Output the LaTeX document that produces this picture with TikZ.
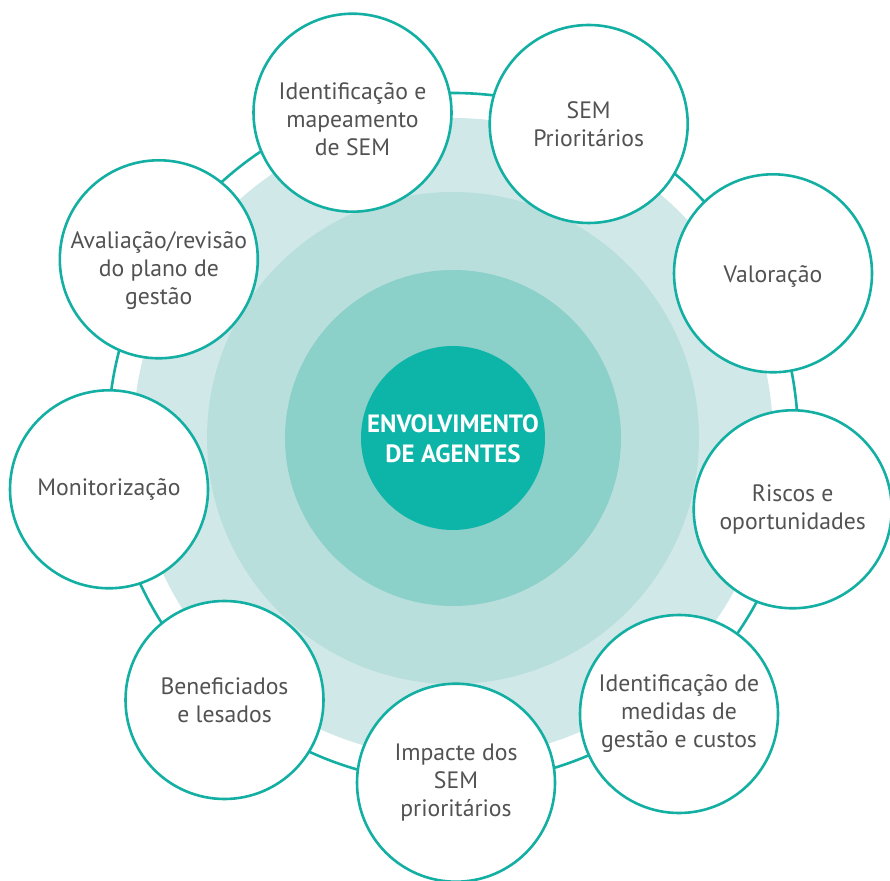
\documentclass[tikz,border=0pt]{standalone}
\usepackage{fontspec}
\setmainfont{PT Sans}
\definecolor{ringA}{HTML}{D0E8E8}
\definecolor{ringB}{HTML}{B9DFDD}
\definecolor{ringC}{HTML}{8BD0C9}
\definecolor{core}{HTML}{0DB5A9}
\definecolor{tealline}{HTML}{13AFA3}
\definecolor{txtgray}{HTML}{525252}
\tikzset{
  disk/.style={circle, inner sep=0pt, outer sep=0pt},
  bubble/.style={circle, draw=tealline, fill=white, line width=2.6pt, minimum size=198pt, inner sep=0pt},
  btext/.style={align=center, text=txtgray, font=\fontsize{23.7}{28}\selectfont, inner sep=0pt},
  ctext/.style={align=center, text=white, font=\fontsize{25}{30}\selectfont\bfseries, inner sep=0pt},
  ringline/.style={circle, draw=tealline, line width=2.6pt, minimum size=690pt, inner sep=0pt}
}
\begin{document}
\begin{tikzpicture}[x=1pt,y=1pt]
\useasboundingbox (0,0) rectangle (890,880);
\coordinate (c) at (453,442);
\node[disk, fill=ringA, minimum size=640pt] (dA) at (c) {};
\node[disk, fill=ringB, minimum size=492pt] (dB) at (c) {};
\node[disk, fill=ringC, minimum size=336pt] (dC) at (c) {};
\node[disk, fill=core, minimum size=184pt] (core) at (c) {};
\node[ctext] (ct) at ([yshift=-1pt]core.center) {ENVOLVIMENTO\\DE AGENTES};
\node[ringline] (ring) at (c) {};
\node[bubble] (n1) at (352.5,767.3) {};
\node[bubble] (n2) at (588.7,756) {};
\node[bubble] (n3) at (773,606.7) {};
\node[bubble] (n4) at (792.7,370.7) {};
\node[bubble] (n5) at (679,166) {};
\node[bubble] (n6) at (456,97.3) {};
\node[bubble] (n7) at (224.5,180) {};
\node[bubble] (n8) at (109,390.7) {};
\node[bubble] (n9) at (158.8,620.7) {};
\node[btext] (t1) at ([yshift=-6pt]n1.center) {Identificação e\\mapeamento\\de SEM};
\node[btext] (t2) at (n2.center) {SEM\\Prioritários};
\node[btext] (t3) at ([yshift=-3pt]n3.center) {Valoração};
\node[btext] (t4) at (n4.center) {Riscos e\\oportunidades};
\node[btext] (t5) at (n5.center) {Identificação de\\medidas de\\gestão e custos};
\node[btext] (t6) at (n6.center) {Impacte dos\\SEM\\prioritários};
\node[btext] (t7) at (n7.center) {Beneficiados\\e lesados};
\node[btext] (t8) at (n8.center) {Monitorização};
\node[btext] (t9) at ([yshift=-11pt]n9.center) {Avaliação/revisão\\do plano de\\gestão};
\end{tikzpicture}
\end{document}
